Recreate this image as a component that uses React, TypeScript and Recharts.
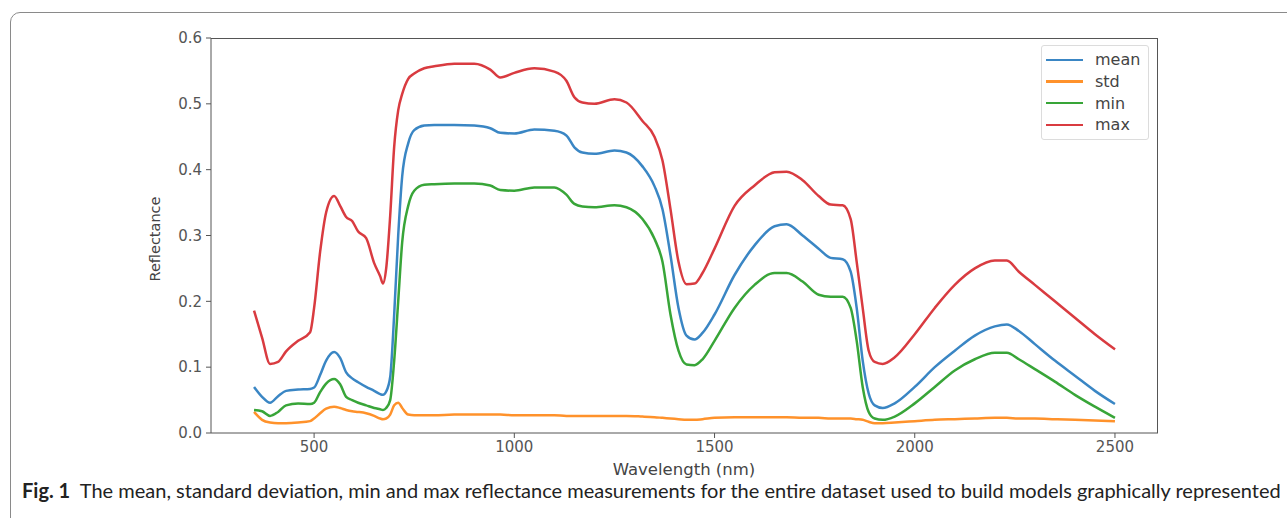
import React from "react";
import { LineChart, Line, XAxis, YAxis } from "recharts";

// wavelength grid (nm) shared by all series
const wavelength = [
  350, 370, 390, 410, 430, 460, 490, 500, 515, 530, 550, 565, 580, 595, 610, 630, 650, 665,
  672, 680, 690, 700, 710, 720, 735, 750, 775, 800, 850, 900, 940, 965, 1000, 1050, 1100,
  1130, 1150, 1170, 1200, 1250, 1280, 1320, 1350, 1370, 1390, 1410, 1430, 1450, 1470, 1500,
  1550, 1600, 1650, 1680, 1720, 1760, 1790, 1820, 1840, 1855, 1870, 1885, 1900, 1920, 1950,
  2000, 2050, 2100, 2150, 2200, 2230, 2260, 2300, 2350, 2400, 2450, 2500,
];

const meanVals = [
  0.07, 0.055, 0.046, 0.056, 0.064, 0.066, 0.067, 0.069, 0.088, 0.11, 0.123, 0.114, 0.092,
  0.083, 0.077, 0.07, 0.064, 0.059, 0.058, 0.063, 0.085, 0.18, 0.3, 0.39, 0.44, 0.46, 0.467,
  0.468, 0.468, 0.467, 0.463, 0.456, 0.455, 0.461, 0.459, 0.452, 0.434, 0.426, 0.424, 0.429,
  0.426, 0.405, 0.375, 0.34, 0.27, 0.19, 0.148, 0.142, 0.152, 0.18, 0.24, 0.285, 0.314,
  0.317, 0.3, 0.28, 0.266, 0.264, 0.245, 0.19, 0.11, 0.06, 0.042, 0.038, 0.045, 0.07, 0.1,
  0.125, 0.148, 0.162, 0.165, 0.155, 0.135, 0.11, 0.087, 0.064, 0.044,
];

const stdVals = [
  0.032, 0.02, 0.016, 0.015, 0.015, 0.016, 0.018, 0.022, 0.03, 0.037, 0.04, 0.038, 0.035,
  0.033, 0.032, 0.03, 0.026, 0.022, 0.021, 0.022, 0.028, 0.042, 0.046, 0.038, 0.028, 0.027,
  0.027, 0.027, 0.028, 0.028, 0.028, 0.028, 0.027, 0.027, 0.027, 0.026, 0.026, 0.026, 0.026,
  0.026, 0.026, 0.025, 0.024, 0.023, 0.022, 0.021, 0.02, 0.02, 0.021, 0.023, 0.024, 0.024,
  0.024, 0.024, 0.023, 0.023, 0.022, 0.022, 0.022, 0.021, 0.02, 0.017, 0.015, 0.015, 0.016,
  0.018, 0.02, 0.021, 0.022, 0.023, 0.023, 0.022, 0.022, 0.021, 0.02, 0.019, 0.018,
];

const minVals = [
  0.035, 0.033, 0.026, 0.032, 0.042, 0.045, 0.044, 0.046, 0.062, 0.075, 0.082, 0.074, 0.055,
  0.05, 0.046, 0.042, 0.038, 0.036, 0.035, 0.038, 0.05, 0.11, 0.2, 0.29, 0.345, 0.368, 0.377,
  0.378, 0.379, 0.379, 0.376, 0.369, 0.368, 0.373, 0.373, 0.362, 0.348, 0.344, 0.343, 0.346,
  0.343, 0.325, 0.295, 0.26, 0.18, 0.125, 0.104, 0.103, 0.112, 0.14, 0.19, 0.225, 0.243,
  0.243, 0.23, 0.21, 0.207, 0.207, 0.19, 0.14, 0.07, 0.032, 0.022, 0.02, 0.025, 0.045, 0.07,
  0.095, 0.112, 0.122, 0.122, 0.112, 0.097, 0.078, 0.058, 0.04, 0.023,
];

const maxVals = [
  0.186, 0.145, 0.105, 0.108, 0.124, 0.14, 0.153, 0.19, 0.275, 0.335, 0.36, 0.345, 0.328,
  0.322, 0.306, 0.296, 0.258, 0.238, 0.227, 0.25, 0.33, 0.435, 0.49, 0.515, 0.538, 0.546,
  0.554, 0.557, 0.561, 0.561, 0.552, 0.54, 0.547, 0.554, 0.549, 0.535, 0.51, 0.502, 0.5,
  0.507, 0.502, 0.474, 0.45, 0.414, 0.34, 0.26, 0.226, 0.227, 0.243, 0.28, 0.345, 0.376,
  0.396, 0.397, 0.384, 0.36, 0.347, 0.346, 0.325, 0.26, 0.19, 0.125, 0.108, 0.105, 0.115,
  0.15, 0.19, 0.225, 0.25, 0.262, 0.262, 0.245, 0.225, 0.2, 0.175, 0.15, 0.127,
];

const xTicks = [500, 1000, 1500, 2000, 2500];
const yTicks = [0, 0.1, 0.2, 0.3, 0.4, 0.5, 0.6];

const series = [
  { key: "mean", color: "#3a86c4" },
  { key: "std", color: "#ff922b" },
  { key: "min", color: "#38a538" },
  { key: "max", color: "#d93b40" },
];

const data = wavelength.map((w, i) => ({
  w,
  mean: meanVals[i],
  std: stdVals[i],
  min: minVals[i],
  max: maxVals[i],
}));

const axisColor = "#555";
const tickFont = { fontFamily: "DejaVu Sans", fontSize: 15, fill: "#555" };

// plot box in page pixels
const plot = { left: 211, top: 38, right: 1158, bottom: 433 };

const LegendBox = () => (
  <div
    style={{
      position: "absolute",
      left: 1041,
      top: 45,
      width: 106,
      padding: "3px 0",
      border: "1px solid #dcdcdc",
      borderRadius: 3,
      background: "#fff",
      fontFamily: "DejaVu Sans",
      fontSize: 16,
      color: "#444",
    }}
  >
    {series.map((s) => (
      <div key={s.key} style={{ display: "flex", alignItems: "center", height: 21.7 }}>
        <div style={{ width: 37, height: 2.5, background: s.color, marginLeft: 4, marginRight: 12 }} />
        <span>{s.key}</span>
      </div>
    ))}
  </div>
);

export default function App() {
  return (
    <div
      style={{
        position: "absolute",
        left: 0,
        top: 0,
        width: 1287,
        height: 518,
        overflow: "hidden",
        background: "#fff",
      }}
    >
      <div
        style={{
          position: "absolute",
          left: 10,
          top: 12,
          width: 1320,
          height: 600,
          border: "1.5px solid #8a8a8a",
          borderRadius: 10,
        }}
      />
      <div style={{ position: "absolute", left: 0, top: 0 }}>
        <LineChart
          width={1287}
          height={480}
          data={data}
          margin={{ top: plot.top, right: 1287 - plot.right, bottom: 7, left: plot.left - 60 }}
        >
          <XAxis
            dataKey="w"
            type="number"
            domain={[242.5, 2607.5]}
            ticks={xTicks}
            allowDataOverflow
            height={40}
            tickSize={5}
            tickMargin={3}
            stroke={axisColor}
            tick={tickFont}
          />
          <YAxis
            type="number"
            domain={[0, 0.6]}
            ticks={yTicks}
            width={60}
            tickSize={5}
            tickMargin={4}
            stroke={axisColor}
            tick={tickFont}
            tickFormatter={(v: number) => v.toFixed(1)}
          />
          {series.map((s) => (
            <Line
              key={s.key}
              dataKey={s.key}
              type="monotone"
              stroke={s.color}
              strokeWidth={2.5}
              dot={false}
              isAnimationActive={false}
            />
          ))}
        </LineChart>
      </div>
      {/* top/right spines */}
      <div
        style={{
          position: "absolute",
          left: plot.left,
          top: plot.top,
          width: plot.right - plot.left,
          height: plot.bottom - plot.top,
          borderTop: `1px solid ${axisColor}`,
          borderRight: `1px solid ${axisColor}`,
          boxSizing: "border-box",
          pointerEvents: "none",
        }}
      />
      <LegendBox />
      <div
        style={{
          position: "absolute",
          left: 155,
          top: 239,
          transform: "translate(-50%, -50%) rotate(-90deg)",
          fontFamily: "DejaVu Sans",
          fontSize: 14.5,
          color: "#444",
          whiteSpace: "nowrap",
        }}
      >
        Reflectance
      </div>
      <div
        style={{
          position: "absolute",
          left: 684,
          top: 469,
          transform: "translate(-50%, -50%)",
          fontFamily: "DejaVu Sans",
          fontSize: 16.5,
          color: "#444",
          whiteSpace: "nowrap",
        }}
      >
        Wavelength (nm)
      </div>
      <div
        style={{
          position: "absolute",
          left: 22,
          top: 478,
          fontFamily: "Lato",
          fontSize: 20,
          color: "#222",
          whiteSpace: "nowrap",
        }}
      >
        <b>Fig. 1</b>&nbsp;&nbsp;The mean, standard deviation, min and max reflectance measurements for the entire dataset used to build models graphically represented
      </div>
    </div>
  );
}
